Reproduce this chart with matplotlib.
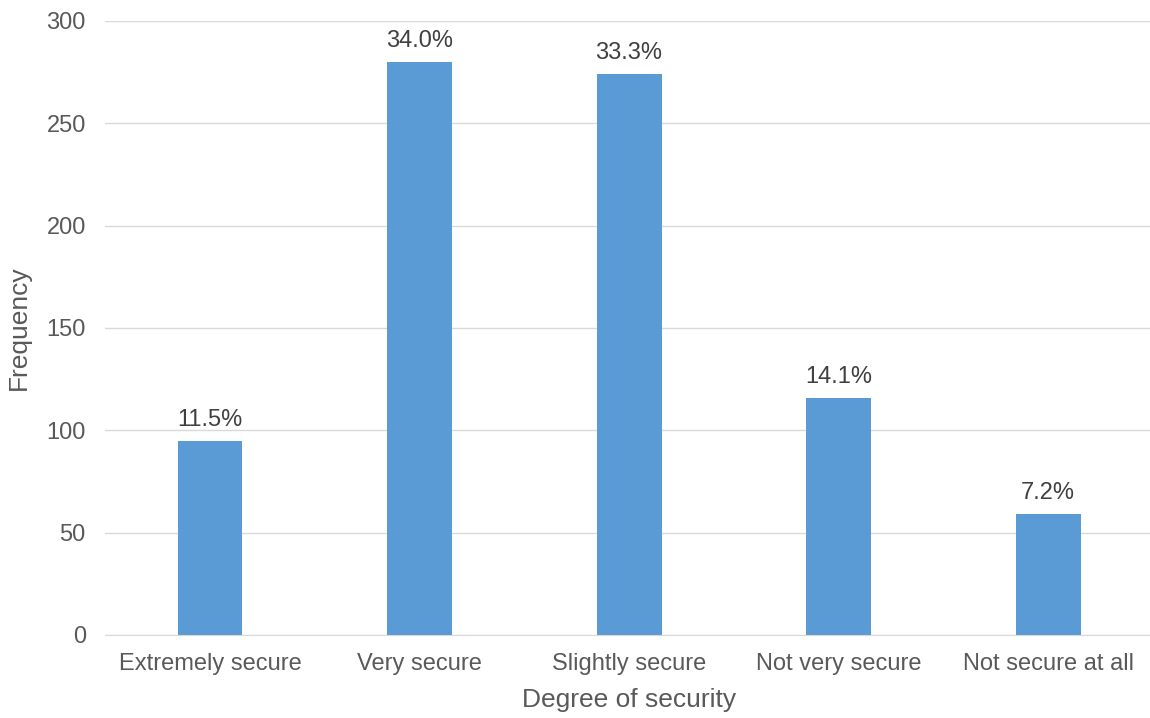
import matplotlib.pyplot as plt

plt.rcParams['font.family'] = ['Liberation Sans', 'DejaVu Sans']

categories = ["Extremely secure", "Very secure", "Slightly secure", "Not very secure", "Not secure at all"]
frequency = [95, 280, 274, 116, 59]
percent_labels = ["11.5%", "34.0%", "33.3%", "14.1%", "7.2%"]

text_color = "#595959"

fig = plt.figure(figsize=(11.5, 7.18), dpi=100)
ax = fig.add_axes([0.0915, 0.1156, 0.911, 0.8554])

x = range(len(categories))
bars = ax.bar(x, frequency, width=0.31, color="#5B9BD5", zorder=3)
for b, lab in zip(bars, percent_labels):
    ax.annotate(lab, (b.get_x() + b.get_width() / 2, b.get_height()),
                xytext=(0, 7), textcoords="offset points",
                ha="center", va="bottom", fontsize=17, color="#404040")

ax.set_xlim(-0.5, len(categories) - 0.5)
ax.set_ylim(0, 300)
ax.set_yticks(range(0, 301, 50))
ax.set_xticks(list(x))
ax.set_xticklabels(categories)
ax.grid(axis="y", color="#D9D9D9", linewidth=1, zorder=0)
for s in ["top", "right", "left"]:
    ax.spines[s].set_visible(False)
ax.spines["bottom"].set_color("#D9D9D9")
ax.tick_params(axis="both", length=0, labelsize=17, colors=text_color)
ax.tick_params(axis="y", pad=14)
ax.tick_params(axis="x", pad=13)
ax.set_xlabel("Degree of security", fontsize=19, color=text_color, labelpad=9)
ax.set_ylabel("Frequency", fontsize=19, color=text_color, labelpad=11)

fig.savefig("out.png", dpi=100)
